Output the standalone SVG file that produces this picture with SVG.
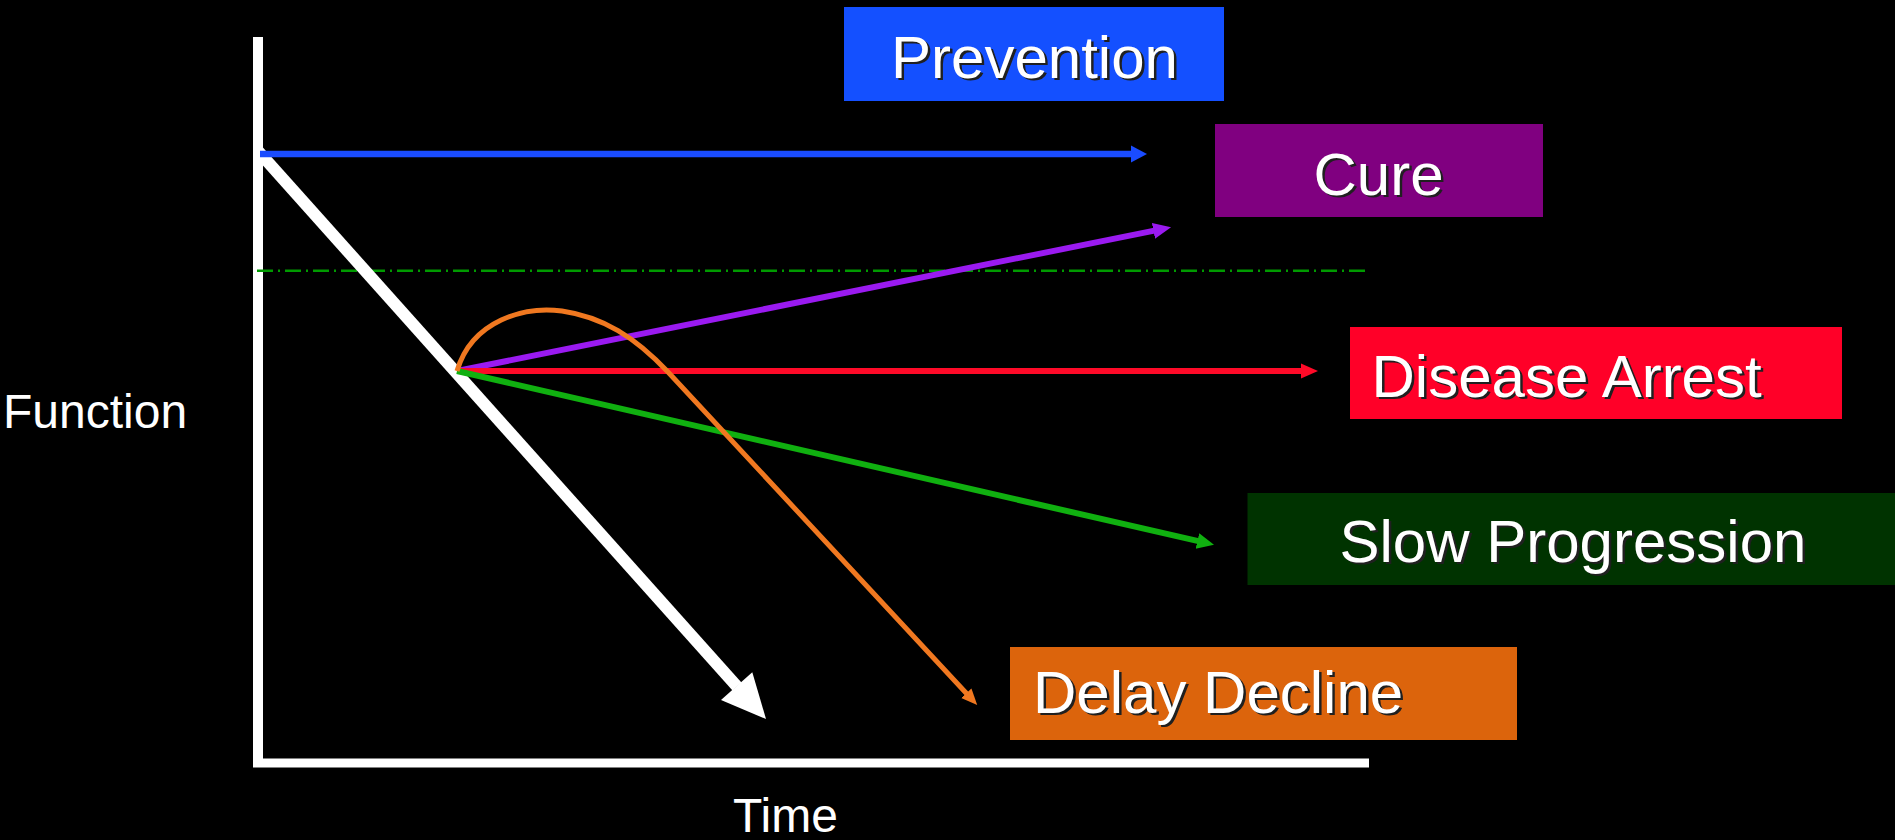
<svg xmlns="http://www.w3.org/2000/svg" width="1895" height="840" viewBox="0 0 1895 840">
  <style>
    .lbl { font-family: "Liberation Sans", Arial, sans-serif; font-size: 60px; fill: #ffffff; }
    .shadow { font-family: "Liberation Sans", Arial, sans-serif; font-size: 60px; fill: #202020; }
    .axislbl { font-family: "Liberation Sans", Arial, sans-serif; font-size: 48px; fill: #ffffff; }
    .axis { stroke: #ffffff; fill: none; }
    .conn { fill: none; stroke-linecap: butt; }
  </style>
  <defs>
    <marker id="mBlue" markerUnits="userSpaceOnUse" markerWidth="20" markerHeight="20" viewBox="0 -10 20 20" refX="1" refY="0" orient="auto">
      <path d="M0,-8.5 L16,0 L0,8.5 z" fill="#1a4cff"/>
    </marker>
    <marker id="mPurple" markerUnits="userSpaceOnUse" markerWidth="20" markerHeight="20" viewBox="0 -10 20 20" refX="1" refY="0" orient="auto">
      <path d="M0,-8 L18,0 L0,8 z" fill="#9a1af0"/>
    </marker>
    <marker id="mRed" markerUnits="userSpaceOnUse" markerWidth="20" markerHeight="20" viewBox="0 -10 20 20" refX="1" refY="0" orient="auto">
      <path d="M0,-7.5 L17,0 L0,7.5 z" fill="#ff0a28"/>
    </marker>
    <marker id="mGreen" markerUnits="userSpaceOnUse" markerWidth="20" markerHeight="20" viewBox="0 -10 20 20" refX="1" refY="0" orient="auto">
      <path d="M0,-8 L17,0 L0,8 z" fill="#10b010"/>
    </marker>
    <marker id="mOrange" markerUnits="userSpaceOnUse" markerWidth="20" markerHeight="20" viewBox="0 -10 20 20" refX="1" refY="0" orient="auto">
      <path d="M0,-7 L16,0 L0,7 z" fill="#f07820"/>
    </marker>
  </defs>
  <rect x="0" y="0" width="1895" height="840" fill="#000000"/>

  <g id="axes">
    <line class="axis" x1="258" y1="37" x2="258" y2="767" stroke-width="10"/>
    <line class="axis" x1="253" y1="763" x2="1369" y2="763" stroke-width="9"/>
    <line x1="257" y1="270.7" x2="1368" y2="270.7" stroke="#009a00" stroke-width="2.5" stroke-dasharray="16 5 2 5"/>
    <text class="axislbl" x="3" y="428">Function</text>
    <text class="axislbl" x="733" y="832">Time</text>
  </g>

  <g id="decline">
    <line x1="258" y1="151" x2="737" y2="686.5" stroke="#ffffff" stroke-width="12"/>
    <polygon points="766,719 721,700 752.3,672.2" fill="#ffffff"/>
  </g>

  <g id="connectors">
    <line class="conn" x1="260" y1="154" x2="1132" y2="154" stroke="#1a4cff" stroke-width="6.5" marker-end="url(#mBlue)"/>
    <line class="conn" x1="457" y1="371" x2="1154.4" y2="230.6" stroke="#9a1af0" stroke-width="6" marker-end="url(#mPurple)"/>
    <line class="conn" x1="457" y1="371" x2="1302" y2="371" stroke="#ff0a28" stroke-width="6" marker-end="url(#mRed)"/>
    <line class="conn" x1="457" y1="371" x2="1198.4" y2="541.2" stroke="#10b010" stroke-width="6" marker-end="url(#mGreen)"/>
    <path class="conn" d="M457,371 C472,320 525,306 562,311 C603,317 635,337 668,372 L967,694" stroke="#f07820" stroke-width="5" marker-end="url(#mOrange)"/>
  </g>

  <g id="prevention">
    <rect x="844" y="7" width="380" height="94" fill="#1450ff"/>
    <text class="shadow" x="1037" y="80" text-anchor="middle">Prevention</text>
    <text class="lbl" x="1034.5" y="78" text-anchor="middle">Prevention</text>
  </g>

  <g id="cure">
    <rect x="1215" y="124" width="328" height="93" fill="#800080"/>
    <text class="shadow" x="1381" y="197" text-anchor="middle">Cure</text>
    <text class="lbl" x="1378.5" y="195" text-anchor="middle">Cure</text>
  </g>

  <g id="disease-arrest">
    <rect x="1350" y="327" width="492" height="92" fill="#ff0028"/>
    <text class="shadow" x="1374" y="399">Disease Arrest</text>
    <text class="lbl" x="1371.5" y="397">Disease Arrest</text>
  </g>

  <g id="slow-progression">
    <rect x="1247.5" y="493" width="660" height="92" fill="#003300"/>
    <text class="shadow" x="1342" y="564">Slow Progression</text>
    <text class="lbl" x="1339.5" y="562">Slow Progression</text>
  </g>

  <g id="delay-decline">
    <rect x="1010" y="647" width="507" height="93" fill="#dc640c"/>
    <text class="shadow" x="1035.5" y="715">Delay Decline</text>
    <text class="lbl" x="1033" y="713">Delay Decline</text>
  </g>
</svg>
